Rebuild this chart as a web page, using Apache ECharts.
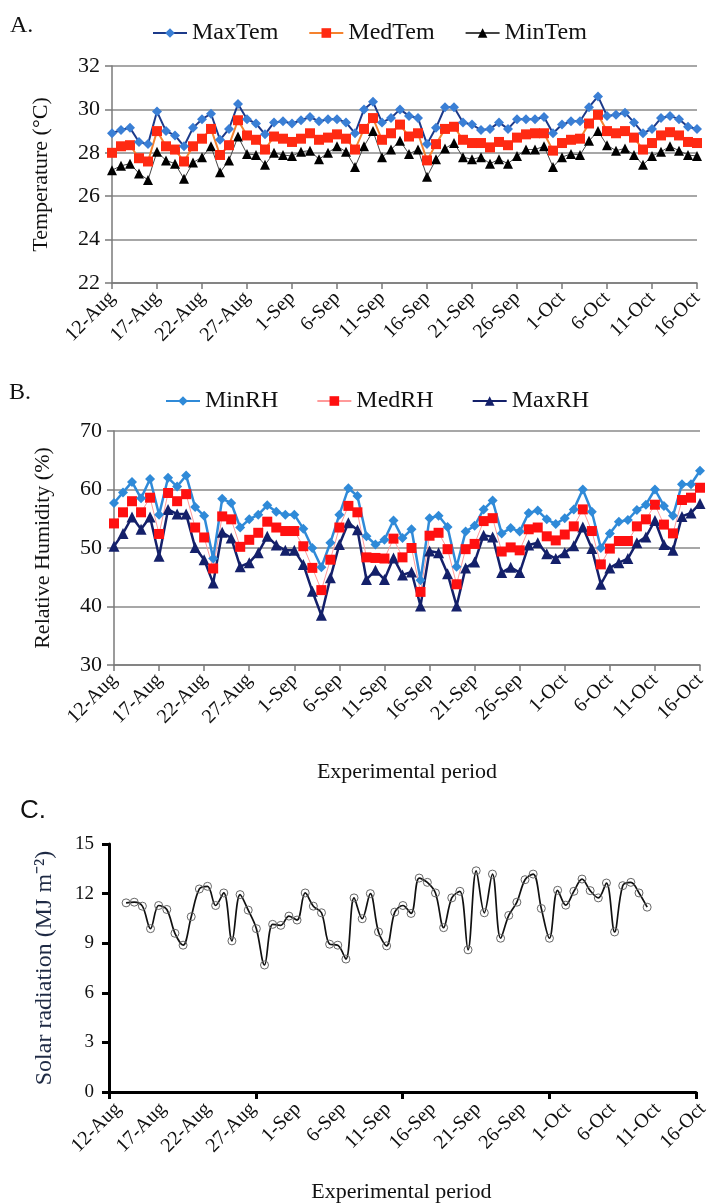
<!DOCTYPE html>
<html>
<head>
<meta charset="utf-8">
<script src="https://cdn.jsdelivr.net/npm/echarts@6/dist/echarts.min.js"></script>
<style>
  html, body { margin: 0; padding: 0; background: #fff; }
  #chart { width: 712px; height: 1204px; }
</style>
</head>
<body>
<div id="chart"></div>
<script>
// categories (12 Aug - 16 Oct)
var days = ['12-Aug','13-Aug','14-Aug','15-Aug','16-Aug','17-Aug','18-Aug','19-Aug','20-Aug','21-Aug',
  '22-Aug','23-Aug','24-Aug','25-Aug','26-Aug','27-Aug','28-Aug','29-Aug','30-Aug','31-Aug',
  '1-Sep','2-Sep','3-Sep','4-Sep','5-Sep','6-Sep','7-Sep','8-Sep','9-Sep','10-Sep',
  '11-Sep','12-Sep','13-Sep','14-Sep','15-Sep','16-Sep','17-Sep','18-Sep','19-Sep','20-Sep',
  '21-Sep','22-Sep','23-Sep','24-Sep','25-Sep','26-Sep','27-Sep','28-Sep','29-Sep','30-Sep',
  '1-Oct','2-Oct','3-Oct','4-Oct','5-Oct','6-Oct','7-Oct','8-Oct','9-Oct','10-Oct',
  '11-Oct','12-Oct','13-Oct','14-Oct','15-Oct','16-Oct'];

// A. temperature (°C)
var maxTem = [28.9,29.05,29.15,28.5,28.4,29.9,29.0,28.8,28.3,29.15,29.55,29.8,28.6,29.1,30.25,29.55,29.35,28.85,29.4,29.45,
  29.35,29.5,29.65,29.45,29.55,29.55,29.4,28.9,30.0,30.35,29.4,29.6,30.0,29.7,29.6,28.4,29.15,30.1,30.1,29.4,
  29.3,29.05,29.1,29.4,29.1,29.55,29.55,29.55,29.65,28.9,29.3,29.45,29.45,30.1,30.6,29.7,29.75,29.85,29.4,28.9,
  29.1,29.6,29.7,29.55,29.2,29.1];
var medTem = [28.0,28.3,28.35,27.75,27.6,29.0,28.3,28.15,27.6,28.3,28.65,29.1,27.9,28.35,29.5,28.8,28.6,28.15,28.75,28.65,
  28.5,28.65,28.9,28.6,28.7,28.85,28.65,28.15,29.1,29.6,28.6,28.9,29.3,28.75,28.9,27.65,28.4,29.1,29.2,28.6,
  28.45,28.45,28.25,28.5,28.35,28.7,28.85,28.9,28.9,28.1,28.45,28.6,28.65,29.35,29.75,29.0,28.9,29.0,28.7,28.15,
  28.45,28.8,28.95,28.8,28.5,28.45];
var minTem = [27.2,27.4,27.5,27.05,26.75,28.05,27.65,27.5,26.8,27.55,27.8,28.3,27.1,27.65,28.75,27.95,27.9,27.45,28.0,27.9,
  27.85,28.05,28.1,27.7,28.0,28.3,28.05,27.35,28.3,29.0,27.8,28.15,28.55,27.95,28.15,26.9,27.7,28.2,28.45,27.8,
  27.7,27.8,27.5,27.7,27.5,27.85,28.15,28.15,28.3,27.35,27.8,27.95,27.9,28.55,29.0,28.35,28.1,28.2,27.9,27.45,
  27.85,28.05,28.3,28.1,27.9,27.85];

// B. relative humidity (%)
var minRH = [57.7,59.5,61.3,58.5,61.8,55.7,62.0,60.5,62.4,57.0,55.5,48.2,58.4,57.7,53.5,54.9,55.7,57.3,56.2,55.7,
  55.7,53.3,50.0,46.7,50.9,55.7,60.2,58.9,52.0,50.6,51.4,54.7,51.7,53.2,44.5,55.1,55.5,53.6,46.8,52.8,
  53.8,56.6,58.1,52.5,53.4,52.8,56.0,56.4,54.9,54.1,55.1,56.6,60.0,56.2,50.0,52.5,54.5,54.8,56.5,57.4,
  60.0,57.2,55.5,60.9,60.9,63.2];
var medRH = [54.2,56.1,58.0,56.1,58.6,52.4,59.4,58.0,59.2,53.5,51.8,46.5,55.4,54.9,50.2,51.4,52.6,54.5,53.5,52.9,
  52.9,50.3,46.6,42.8,48.0,53.5,57.2,56.1,48.4,48.3,48.2,51.6,48.4,50.0,42.5,52.1,52.6,49.8,43.8,49.8,
  50.7,54.6,55.1,49.4,50.1,49.6,53.2,53.5,52.0,51.3,52.3,53.7,56.6,52.9,47.2,49.9,51.2,51.2,53.7,54.9,
  57.4,54.0,52.5,58.2,58.6,60.3];
var maxRH = [50.3,52.5,55.3,53.2,55.3,48.6,56.6,55.8,55.8,50.1,48.0,44.0,52.7,51.7,46.8,47.5,49.2,52.0,50.5,49.6,
  49.6,47.2,42.6,38.5,44.9,50.6,54.3,53.1,44.6,46.2,44.6,48.3,45.4,45.9,40.1,49.5,49.2,45.6,40.1,46.6,
  47.6,52.2,51.9,45.8,46.7,45.8,50.5,50.9,49.0,48.2,49.2,50.4,53.6,49.9,43.8,46.6,47.5,48.2,50.9,51.9,
  54.7,50.6,49.6,55.4,56.0,57.6];

// C. solar radiation (MJ m-2), 65 daily points
var solar = [11.44,11.48,11.24,9.88,11.28,11.04,9.6,8.88,10.6,12.28,12.44,11.28,12.04,9.14,11.94,11.0,9.88,7.68,10.14,10.08,
  10.64,10.4,12.04,11.24,10.84,8.94,8.88,8.04,11.74,10.48,12.0,9.68,8.84,10.88,11.28,10.8,12.94,12.68,12.04,9.94,
  11.74,12.14,8.6,13.38,10.84,13.18,9.3,10.68,11.48,12.84,13.18,11.1,9.3,12.2,11.3,12.14,12.88,12.18,11.74,12.64,
  9.68,12.48,12.68,12.04,11.18];

var serif = 'Liberation Serif';

function catAxis(grid) {
    return {
        type: 'category', gridIndex: grid, data: days, boundaryGap: false,
        axisLine: { lineStyle: { color: '#7a7a7a', width: 1.5 } },
        axisTick: { show: true, interval: 4, length: 6, lineStyle: { color: '#7a7a7a', width: 1.5 } },
        axisLabel: { interval: 4, rotate: 45, margin: 12, fontFamily: serif, fontSize: 20, color: '#111' }
    };
}

function valAxis(grid, min, max, step, name) {
    return {
        type: 'value', gridIndex: grid, min: min, max: max, interval: step,
        name: name, nameLocation: 'middle', nameGap: 60,
        nameTextStyle: { fontFamily: serif, fontSize: 22, color: '#111' },
        axisLine: { show: true, lineStyle: { color: '#7a7a7a', width: 1.5 } },
        axisTick: { show: true, length: 7, lineStyle: { color: '#7a7a7a', width: 1.5 } },
        axisLabel: { fontFamily: serif, fontSize: 22, color: '#111', margin: 12 },
        splitLine: { lineStyle: { color: '#8a8a8a', width: 1.5 } }
    };
}

function lineSeries(name, data, x, y, symbol, size, markColor, lineColor, lineWidth) {
    return {
        name: name, type: 'line', data: data, xAxisIndex: x, yAxisIndex: y,
        symbol: symbol, symbolSize: size, showAllSymbol: true,
        itemStyle: { color: markColor },
        lineStyle: { color: lineColor, width: lineWidth },
        emphasis: { disabled: true }
    };
}

var chart = echarts.init(document.getElementById('chart'));

var option = {
    backgroundColor: '#fff',
    animation: false,
    graphic: [
        { type: 'text', left: 10, top: 14, style: { text: 'A.', font: '24px "Liberation Serif"', fill: '#111' } },
        { type: 'text', left: 9, top: 381, style: { text: 'B.', font: '24px "Liberation Serif"', fill: '#111' } },
        { type: 'text', left: 20, top: 798, style: { text: 'C.', font: '26px "Liberation Sans"', fill: '#111' } }
    ],
    legend: [
        {
            data: ['MaxTem', 'MedTem', 'MinTem'], left: 147, top: 16, itemGap: 30,
            itemWidth: 34, itemHeight: 12,
            textStyle: { fontFamily: serif, fontSize: 24, color: '#111' }
        },
        {
            data: ['MinRH', 'MedRH', 'MaxRH'], left: 160, top: 384, itemGap: 38,
            itemWidth: 34, itemHeight: 12,
            textStyle: { fontFamily: serif, fontSize: 24, color: '#111' }
        }
    ],
    grid: [
        { left: 112, top: 66, width: 585, height: 217 },
        { left: 114, top: 431, width: 586, height: 234 },
        { left: 109, top: 844, width: 587, height: 248 },
        { left: 118, top: 844, width: 588, height: 248 }
    ],
    xAxis: [
        catAxis(0),
        Object.assign(catAxis(1), {
            name: 'Experimental period', nameLocation: 'middle', nameGap: 96,
            nameTextStyle: { fontFamily: serif, fontSize: 22, color: '#111' }
        }),
        // C: axis line + ticks
        {
            type: 'value', gridIndex: 2, min: 0, max: 4, interval: 1,
            axisLine: { show: true, onZero: false, lineStyle: { color: '#000', width: 3 } },
            axisTick: { show: true, length: 7, lineStyle: { color: '#000', width: 3 } },
            axisLabel: { show: false }, splitLine: { show: false }
        },
        // C: data axis (hidden)
        {
            type: 'value', gridIndex: 2, min: -2.1, max: 70, show: false
        },
        // C: date labels
        {
            type: 'category', gridIndex: 3, data: days, boundaryGap: false,
            axisLine: { show: false }, axisTick: { show: false },
            axisLabel: { interval: 4, rotate: 45, margin: 16, fontFamily: serif, fontSize: 20, color: '#111' },
            name: 'Experimental period', nameLocation: 'middle', nameGap: 91,
            nameTextStyle: { fontFamily: serif, fontSize: 22, color: '#111', padding: [0, 18, 0, 0] }
        }
    ],
    yAxis: [
        valAxis(0, 22, 32, 2, 'Temperature (°C)'),
        valAxis(1, 30, 70, 10, 'Relative Humidity (%)'),
        {
            type: 'value', gridIndex: 2, min: 0, max: 15, interval: 3,
            name: 'Solar radiation (MJ m⁻²)', nameLocation: 'middle', nameGap: 52,
            nameTextStyle: { fontFamily: serif, fontSize: 24, color: '#1e2a44' },
            axisLine: { show: true, lineStyle: { color: '#000', width: 3 } },
            axisTick: { show: true, length: 7, lineStyle: { color: '#000', width: 3 } },
            axisLabel: { fontFamily: serif, fontSize: 19, color: '#111', margin: 15 },
            splitLine: { show: false }
        },
        { type: 'value', gridIndex: 3, show: false }
    ],
    series: [
        lineSeries('MinTem', minTem, 0, 0, 'triangle', 10, '#000', '#444', 1),
        lineSeries('MedTem', medTem, 0, 0, 'rect', 10, '#ff2a12', '#f5822e', 2),
        lineSeries('MaxTem', maxTem, 0, 0, 'diamond', 10, '#3a7fd5', '#1c3a8a', 2),

        lineSeries('MaxRH', maxRH, 1, 1, 'triangle', 11, '#14206a', '#14206a', 2.5),
        lineSeries('MedRH', medRH, 1, 1, 'rect', 10, '#ff1010', '#ff9a9a', 1),
        lineSeries('MinRH', minRH, 1, 1, 'diamond', 10, '#2f8ad8', '#2f8ad8', 2.5),

        {
            name: 'Solar', type: 'line', xAxisIndex: 3, yAxisIndex: 2,
            data: solar.map(function (v, i) { return [i, v]; }),
            smooth: 0.35, symbol: 'circle', symbolSize: 8, showAllSymbol: true,
            lineStyle: { color: '#111', width: 1.7 },
            itemStyle: { color: 'rgba(255,255,255,0)', borderColor: '#666', borderWidth: 1 },
            emphasis: { disabled: true }
        }
    ]
};

chart.setOption(option);
</script>
</body>
</html>
